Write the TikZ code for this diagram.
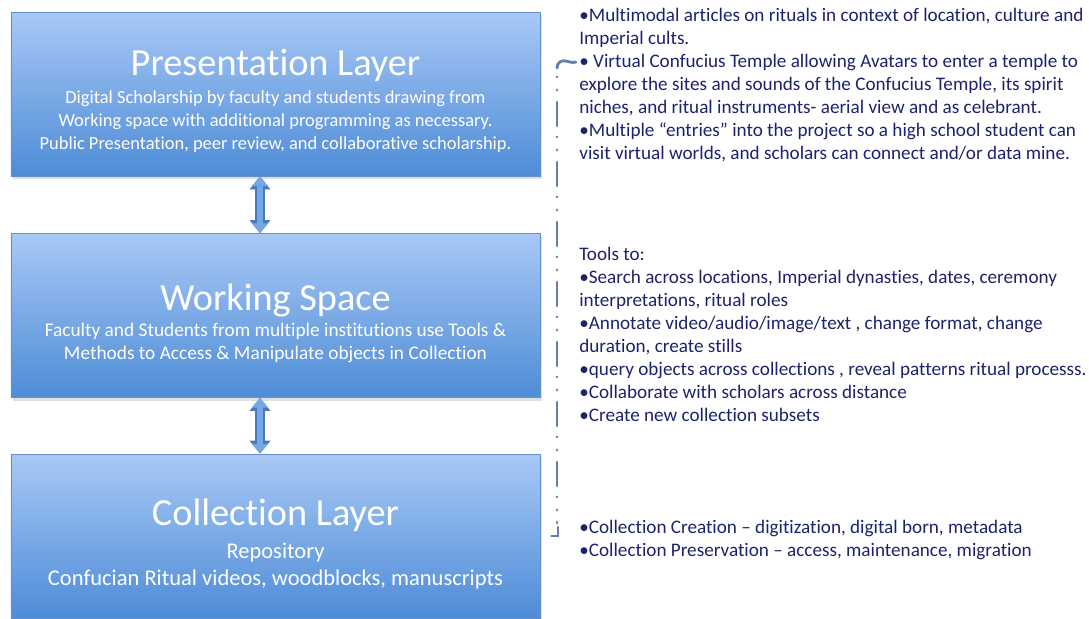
\documentclass[tikz,border=0pt]{standalone}
\usepackage{fontspec}
\setmainfont[Ligatures=NoCommon]{Carlito}
\usetikzlibrary{arrows.meta, positioning, shadows}

\definecolor{layertop}{RGB}{168,200,245}
\definecolor{layerbot}{RGB}{78,140,215}
\definecolor{layeredge}{RGB}{100,145,205}
\definecolor{notetext}{RGB}{28,34,110}
\definecolor{arrowfill}{RGB}{118,166,228}
\definecolor{arrowedge}{RGB}{72,122,192}
\definecolor{bracecol}{RGB}{98,128,172}

\newcommand{\layertitle}[1]{{\fontsize{21.8}{24}\selectfont #1}}

\tikzset{
    layer/.style={rectangle, draw=layeredge, top color=layertop, bottom color=layerbot,
        minimum width=10.58cm, minimum height=3.28cm,
        drop shadow={opacity=0.25, shadow xshift=0.04cm, shadow yshift=-0.06cm}},
    layertext/.style={text=white, align=center, inner sep=0pt},
    note/.style={anchor=north west, align=left, inner sep=0pt, text=notetext,
        font=\fontsize{10.9}{13.1}\selectfont},
    link/.style={draw=arrowfill, line width=3.9pt,
        {Triangle[width=9pt,length=5.6pt]}-{Triangle[width=9pt,length=5.6pt]},
        preaction={draw=arrowedge, line width=5.6pt,
        {Triangle[width=11.4pt,length=7.4pt]}-{Triangle[width=11.4pt,length=7.4pt]}}},
    brace/.style={draw=bracecol, line width=1.6pt, line cap=round}
}

\begin{document}
\begin{tikzpicture}
    \useasboundingbox (0,0) rectangle (21.78,-12.38);

    \node[layer] (pres) at (5.51,-1.88) {};
    \node[layer] (work) at (5.51,-6.31) {};
    \node[layer] (coll) at (5.51,-10.72) {};

    \node[layertext, font=\fontsize{10.5}{13.1}\selectfont] (prestext) at ([yshift=-0.14cm]pres.center)
        {\layertitle{Presentation Layer}\\[3pt]
        Digital Scholarship by faculty and students drawing from\\
        Working space with additional programming as necessary.\\
        Public Presentation, peer review, and collaborative scholarship.};
    \node[layertext, font=\fontsize{11}{13.1}\selectfont] (worktext) at ([yshift=-0.16cm]work.center)
        {\layertitle{Working Space}\\[2pt]
        Faculty and Students from multiple institutions use Tools \&\\
        Methods to Access \& Manipulate objects in Collection};
    \node[layertext, font=\fontsize{12.8}{15.4}\selectfont] (colltext) at ([yshift=-0.16cm]coll.center)
        {\layertitle{Collection Layer}\\[3pt]
        Repository\\
        Confucian Ritual videos, woodblocks, manuscripts};

    \draw[link] ([xshift=-0.31cm]pres.south) -- ([xshift=-0.31cm]work.north);
    \draw[link] ([xshift=-0.31cm]work.south) -- ([xshift=-0.31cm]coll.north);

    \node[note] (presnote) at (11.58,-0.16) {%
        •Multimodal articles on rituals in context of location, culture and\\
        Imperial cults.\\
        • Virtual Confucius Temple allowing Avatars to enter a temple to\\
        explore the sites and sounds of the Confucius Temple, its spirit\\
        niches, and ritual instruments- aerial view and as celebrant.\\
        •Multiple “entries” into the project so a high school student can\\
        visit virtual worlds, and scholars can connect and/or data mine.};
    \node[note] (worknote) at (11.58,-4.94) {%
        Tools to:\\
        •Search across locations, Imperial dynasties, dates, ceremony\\
        interpretations, ritual roles\\
        •Annotate video/audio/image/text , change format, change\\
        duration, create stills\\
        •query objects across collections , reveal patterns ritual processs.\\
        •Collaborate with scholars across distance\\
        •Create new collection subsets};
    \node[note] (collnote) at (11.58,-10.40) {%
        •Collection Creation – digitization, digital born, metadata\\
        •Collection Preservation – access, maintenance, migration};

    \draw[brace] (11.14,-1.36) .. controls (11.14,-1.24) and (11.24,-1.20) .. (11.32,-1.22)
        .. controls (11.40,-1.24) and (11.44,-1.26) .. (11.52,-1.24);
    \draw[brace, dash pattern=on 0.48cm off 0.22cm on 0pt off 0.26cm on 0pt off 0.24cm, dash phase=0.58cm]
        (11.14,-1.42) -- (11.14,-10.46);
    \draw[brace] (11.16,-10.54) -- (11.16,-10.72) -- (11.03,-10.72);
\end{tikzpicture}
\end{document}
